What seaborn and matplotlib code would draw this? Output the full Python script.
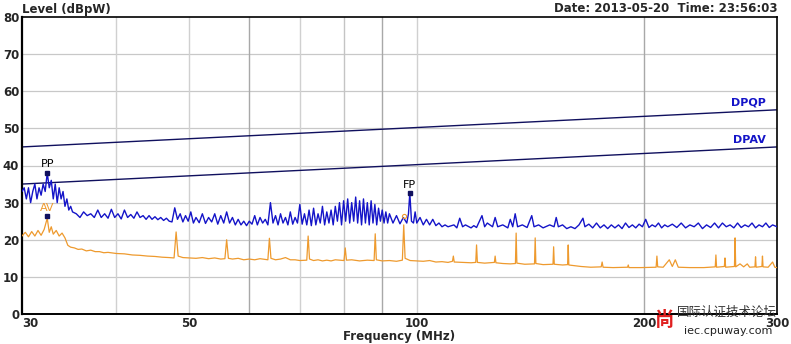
import matplotlib
matplotlib.use("Agg")
import matplotlib.pyplot as plt
import numpy as np
import pandas as pd
import seaborn as sns

# ---------------- data ----------------
limit_freq = [30, 300]
dpqp_level = [45.0, 55.0]
dpav_level = [35.0, 45.0]

blue_freq = [
    30.0, 30.2, 30.4, 30.6, 30.8, 31.0, 31.2, 31.4, 31.6, 31.8, 32.0, 32.2, 32.4, 32.6, 32.8, 33.0,
    33.2, 33.4, 33.6, 33.8, 34.0, 34.2, 34.4, 34.6, 34.8, 35.0,
    35.4, 35.8, 36.2, 36.6, 37.0, 37.4, 37.8, 38.2, 38.6, 39.0, 39.4, 39.8, 40.2, 40.6, 41.0, 41.4,
    41.8, 42.2, 42.6, 43.0, 43.4, 43.8, 44.2, 44.6, 45.0, 45.4, 45.8, 46.2, 46.6, 47.0, 47.4, 47.8,
    48.2, 48.6, 49.0, 49.4, 49.8, 50.2, 50.6, 51.0, 51.5, 52.0, 52.5, 53.0, 53.5, 54.0, 54.5, 55.0,
    55.5, 56.0, 56.5, 57.0, 57.5, 58.0, 58.5, 59.0, 59.5, 60.0, 60.5, 61.0, 61.5, 62.0, 62.5, 63.0,
    63.5, 64.0, 64.5, 65.0, 65.5, 66.0, 66.5, 67.0, 67.5, 68.0, 68.5, 69.0, 69.5, 70.0, 70.5, 71.0,
    71.5, 72.0, 72.5, 73.0, 73.5, 74.0, 74.5, 75.0, 75.5, 76.0, 76.5, 77.0, 77.5, 78.0, 78.5, 79.0,
    79.5, 80.0, 80.5, 81.0, 81.5, 82.0, 82.5, 83.0, 83.5, 84.0, 84.5, 85.0, 85.5, 86.0, 86.5, 87.0,
    87.5, 88.0, 88.5, 89.0, 89.5, 90.0, 90.5, 91.0, 91.5, 92.0, 93.0, 94.0, 95.0, 96.0, 97.0, 97.5,
    97.9, 98.4, 99.0, 99.5, 100.0, 101.0, 102.0, 103.0, 104.0, 105.0, 106.0, 107.0, 108.0, 109.0,
    110.0, 112.0, 113.0, 114.0, 115.0, 116.0, 118.0, 119.0, 120.0, 122.0, 123.0, 124.0, 126.0,
    127.0, 128.0, 130.0, 132.0, 133.0, 134.0, 135.0, 136.0, 138.0, 140.0, 142.0, 143.0, 145.0,
    147.0, 150.0, 152.0, 153.0, 154.0, 156.0, 158.0, 160.0, 162.0, 164.0, 166.0, 167.0, 169.0,
    171.0, 173.0, 175.0, 177.0, 179.0, 181.0, 183.0, 185.0, 187.0, 189.0, 191.0, 193.0, 195.0,
    197.0, 199.0, 201.0, 203.0, 205.0, 207.0, 209.0, 211.0, 213.0, 215.0, 218.0, 221.0, 224.0,
    227.0, 230.0, 233.0, 236.0, 239.0, 242.0, 245.0, 248.0, 251.0, 254.0, 257.0, 260.0, 263.0,
    266.0, 269.0, 272.0, 275.0, 278.0, 281.0, 284.0, 287.0, 290.0, 293.0, 296.0, 300.0,
]
blue_level = [
    33.0, 34.0, 31.0, 34.0, 30.0, 33.0, 35.0, 31.0, 34.0, 32.0, 35.0, 33.0, 38.0, 34.0, 36.0, 31.0,
    35.0, 30.0, 34.0, 31.0, 33.0, 29.0, 31.0, 28.0, 29.0, 27.5,
    27.0, 26.0, 27.5, 26.5, 27.0, 26.0, 28.0, 26.0, 27.0, 25.8, 28.2, 26.0, 27.0, 25.6, 28.0, 26.0,
    26.8, 25.8, 27.5, 26.0, 26.5, 25.5, 26.5, 25.5, 26.2, 25.4, 26.0, 25.2, 25.8, 25.0, 24.8, 28.6,
    25.5, 27.0, 24.8, 26.5, 25.0, 27.5, 24.5, 26.0, 24.6, 27.0, 24.4, 26.0, 24.8, 27.0, 24.2, 26.5,
    24.5, 27.5, 24.5, 26.0, 24.0, 25.5, 24.0, 25.0, 23.8, 25.0, 24.2, 26.5, 24.0, 26.0, 24.5, 25.5,
    24.0, 30.0, 24.5, 26.5, 24.0, 27.0, 24.5, 26.0, 24.0, 27.5, 24.2, 26.0, 24.5, 29.5, 24.2, 27.0,
    24.0, 28.0, 23.8, 28.5, 24.0, 27.0, 24.5, 29.0, 24.0, 27.5, 24.5, 28.0, 24.0, 29.0, 25.0, 30.0,
    24.0, 30.5, 25.0, 31.0, 24.5, 30.0, 25.0, 31.5, 24.5, 30.5, 24.0, 31.0, 24.5, 30.0, 24.0, 30.5,
    24.5, 29.5, 24.0, 28.5, 25.0, 28.0, 24.5, 27.5, 24.5, 27.0, 24.5, 26.5, 24.3, 26.0, 24.5, 27.0,
    32.6, 25.0, 24.5, 27.5, 24.5, 26.0, 24.0, 25.5, 24.0, 25.5, 23.8, 24.5, 23.5, 24.0,
    23.5, 24.0, 23.2, 25.8, 23.5, 24.0, 23.2, 23.8, 23.3, 26.5, 23.5, 24.5, 23.5,
    26.0, 23.5, 24.0, 23.2, 25.5, 23.5, 27.0, 23.5, 24.0, 23.3, 26.5, 23.5, 24.0,
    23.2, 24.0, 23.5, 26.0, 23.5, 24.0, 23.0, 23.5, 23.0, 24.0, 25.8, 23.5, 24.2,
    23.2, 24.5, 23.2, 24.0, 23.0, 24.0, 23.2, 24.0, 23.0, 24.5, 23.3, 24.0, 23.2,
    24.2, 23.5, 25.5, 23.3, 24.0, 23.5, 24.5, 23.2, 24.0, 23.5, 24.2, 23.3, 24.5,
    23.2, 24.0, 23.5, 24.5, 23.0, 24.0, 23.3, 24.5, 23.2, 24.5, 23.5, 24.0, 23.2,
    24.5, 23.3, 24.0, 23.5, 24.5, 23.2, 24.0, 23.5, 24.5, 23.3, 24.0, 23.5,
]

orange_freq = [
    30.0, 30.3, 30.6, 30.9, 31.2, 31.5, 31.8, 32.1, 32.4, 32.6, 32.8, 33.0, 33.3, 33.6, 33.9, 34.2,
    34.5, 34.8, 35.2, 35.6, 36.0, 36.5, 37.0, 37.5, 38.0, 38.5, 39.0, 40.0, 41.0, 42.0, 43.0, 44.0,
    45.0, 46.0, 47.0, 47.7, 48.0, 48.3, 49.0, 50.0, 51.0, 52.0, 53.0, 54.0, 55.0, 55.7, 56.0, 56.3,
    57.0, 58.0, 59.0, 60.0, 61.0, 62.0, 63.5, 63.8, 64.1, 65.0, 66.0, 67.0, 68.0, 69.0, 70.0, 71.5,
    71.8, 72.1, 73.0, 74.0, 75.0, 76.0, 77.0, 78.0, 80.1, 80.4, 80.7, 82.0, 84.0, 86.0, 87.8, 88.1,
    88.4, 90.0, 92.0, 94.0, 95.7, 96.1, 96.5, 98.0, 100.0, 102.0, 104.0, 106.0, 108.0, 110.0, 111.5,
    111.8, 112.1, 115.0, 118.0, 119.7, 120.0, 120.3, 123.0, 126.7, 127.0, 127.3, 130.0, 133.0,
    135.1, 135.4, 135.7, 139.0, 143.2, 143.5, 143.8, 147.0, 151.5, 151.8, 152.1, 156.0, 158.4,
    158.7, 159.0, 165.0, 170.0, 175.5, 176.0, 176.5, 182.0, 190.2, 190.6, 191.0, 198.0, 207.5,
    208.0, 208.5, 212.0, 216.0, 218.0, 220.0, 222.0, 230.0, 240.0, 248.5, 249.0, 249.5, 255.5,
    256.0, 256.5, 263.5, 264.0, 264.5, 268.0, 271.0, 274.0, 276.0, 280.5, 281.0, 281.5, 286.5,
    287.0, 287.5, 292.0, 296.0, 298.0, 300.0,
]
orange_level = [
    21.0, 22.0, 20.8, 22.2, 21.0, 22.5, 21.2, 22.8, 25.8, 22.0, 23.5, 21.5, 22.5, 21.0, 21.8, 20.5,
    18.5, 18.0, 17.8, 17.4, 17.5, 17.0, 17.2, 16.8, 16.8, 16.5, 16.6, 16.3, 16.2, 15.9, 15.8, 15.6,
    15.5, 15.3, 15.2, 15.1, 22.1, 15.6, 15.2, 15.1, 15.0, 15.2, 14.9, 15.1, 14.8, 14.9, 20.0, 15.0,
    14.8, 15.0, 14.6, 14.8, 14.6, 14.9, 14.6, 20.4, 15.0, 14.6, 14.8, 15.2, 14.6, 14.6, 14.4, 14.5,
    21.0, 14.8, 14.4, 14.6, 14.3, 14.5, 14.3, 14.6, 14.4, 17.8, 14.5, 14.6, 14.3, 14.5, 14.4, 21.6,
    14.6, 14.3, 14.4, 14.2, 14.5, 24.0, 15.0, 14.4, 14.3, 14.2, 14.4, 14.0, 14.1, 13.9, 14.2,
    15.6, 14.0, 13.9, 13.8, 13.9, 18.6, 13.9, 13.7, 13.9, 15.6, 13.8, 13.6, 13.5,
    13.6, 21.8, 13.7, 13.4, 13.5, 20.5, 13.6, 13.3, 13.4, 18.1, 13.4, 13.2, 13.3,
    18.6, 13.2, 12.8, 12.6, 12.7, 14.0, 12.6, 12.5, 12.6, 13.2, 12.5, 12.5, 12.6,
    15.6, 12.7, 12.6, 14.6, 12.8, 14.6, 12.6, 12.5, 12.5, 12.7, 15.9, 12.6, 12.8,
    15.1, 12.6, 12.8, 20.5, 12.7, 13.5, 12.7, 13.5, 12.6, 12.7, 15.4, 12.6, 12.8,
    15.6, 12.7, 12.6, 14.0, 12.6, 12.5,
]

# marker annotations: (label, freq, level)
pp_mark = ("PP", 32.4, 38.0)
av_mark = ("AV", 32.4, 26.3)
fp_mark = ("FP", 97.9, 32.6)
fav_mark = (96.1, 26.4)

x_ticks = [30, 50, 100, 200, 300]
y_ticks = [0, 10, 20, 30, 40, 50, 60, 70, 80]

# ---------------- style ----------------
sns.set_style("white")
plt.rcParams["font.family"] = ["DejaVu Sans", "Noto Sans CJK SC"]

BLUE = "#1414c8"
NAVY = "#10105e"
ORANGE = "#ee9a2e"

fig = plt.figure(figsize=(7.91, 3.44), dpi=100)
ax = fig.add_axes([22 / 791, 30 / 344, 755 / 791, 297 / 344])

ax.set_xscale("log")
ax.set_xlim(30, 300)
ax.set_ylim(0, 80)

# grid
for yv in y_ticks[1:-1]:
    ax.axhline(yv, color="#c8c8c8", lw=0.9, zorder=0)
for xv, c in [(40, "#d0d0d0"), (50, "#d0d0d0"), (60, "#a8a8a8"), (70, "#d0d0d0"),
              (80, "#c4c4c4"), (90, "#a8a8a8"), (100, "#d0d0d0"), (200, "#a8a8a8")]:
    ax.axvline(xv, color=c, lw=1.0, zorder=0)

df_lim = pd.DataFrame({"f": limit_freq * 2, "level": dpqp_level + dpav_level,
                       "name": ["DPQP"] * 2 + ["DPAV"] * 2})
sns.lineplot(data=df_lim, x="f", y="level", units="name", estimator=None,
             color=NAVY, lw=1.0, ax=ax, zorder=2)

df_b = pd.DataFrame({"f": blue_freq, "level": blue_level})
df_o = pd.DataFrame({"f": orange_freq, "level": orange_level})
sns.lineplot(data=df_o, x="f", y="level", estimator=None, sort=False,
             color=ORANGE, lw=0.9, ax=ax, zorder=3)
sns.lineplot(data=df_b, x="f", y="level", estimator=None, sort=False,
             color=BLUE, lw=1.0, ax=ax, zorder=4)

# markers
ax.plot([pp_mark[1]], [pp_mark[2]], marker="s", ms=3, color=NAVY, zorder=6)
ax.text(pp_mark[1], pp_mark[2] + 1.0, pp_mark[0], ha="center", va="bottom",
        fontsize=8, color="black", zorder=6)
ax.plot([av_mark[1]], [av_mark[2]], marker="s", ms=3, color=NAVY, zorder=6)
ax.text(av_mark[1], av_mark[2] + 1.0, av_mark[0], ha="center", va="bottom",
        fontsize=8, color=ORANGE, zorder=6)
ax.plot([fp_mark[1]], [fp_mark[2]], marker="s", ms=3, color=NAVY, zorder=6)
ax.text(fp_mark[1], fp_mark[2] + 0.8, fp_mark[0], ha="center", va="bottom",
        fontsize=8, color="black", zorder=6)
ax.plot([fav_mark[0]], [fav_mark[1]], marker="o", ms=3, mfc="none", mec=ORANGE, mew=0.8, zorder=6)

# limit labels
ax.text(290, 55.6, "DPQP", ha="right", va="bottom", fontsize=8, fontweight="bold", color=BLUE)
ax.text(290, 45.6, "DPAV", ha="right", va="bottom", fontsize=8, fontweight="bold", color=BLUE)

# axes / ticks
ax.set_xticks(x_ticks)
ax.set_xticklabels([str(v) for v in x_ticks])
ax.xaxis.set_minor_locator(matplotlib.ticker.NullLocator())
ax.set_yticks(y_ticks)
ax.set_yticklabels([str(v) for v in y_ticks])
ax.tick_params(axis="both", length=0, labelsize=8.5, pad=2)
for lab in ax.get_xticklabels() + ax.get_yticklabels():
    lab.set_fontweight("bold")
ax.get_xticklabels()[0].set_horizontalalignment("left")
ax.get_xticklabels()[-1].set_horizontalalignment("center")
ax.set_xlabel("Frequency (MHz)", fontsize=8.5, fontweight="bold", labelpad=0)
ax.set_ylabel("")

for side in ["left", "bottom", "top", "right"]:
    ax.spines[side].set_visible(True)
    ax.spines[side].set_color("black")
ax.spines["left"].set_linewidth(1.6)
ax.spines["bottom"].set_linewidth(1.4)
ax.spines["top"].set_linewidth(1.2)
ax.spines["right"].set_linewidth(1.2)

fig.text(22 / 791, 1 - 10 / 344, "Level (dBpW)", ha="left", va="center",
         fontsize=8.5, fontweight="bold")
fig.text(778 / 791, 1 - 9 / 344, "Date: 2013-05-20  Time: 23:56:03", ha="right", va="center",
         fontsize=8.5, fontweight="bold")

# watermark
fig.text(677 / 791, 1 - 312 / 344, "国际认证技术论坛", ha="left", va="center",
         fontsize=9, color="#333333", family=["Noto Sans CJK SC", "DejaVu Sans"], zorder=10)
fig.text(684 / 791, 1 - 331 / 344, "iec.cpuway.com", ha="left", va="center",
         fontsize=8, color="#222222", zorder=10)
fig.text(654 / 791, 1 - 321 / 344, "尚", ha="left", va="center", fontsize=14,
         color="#e02020", fontweight="bold", family=["Noto Sans CJK SC", "DejaVu Sans"], zorder=10)

fig.savefig("out.png", dpi=100)
